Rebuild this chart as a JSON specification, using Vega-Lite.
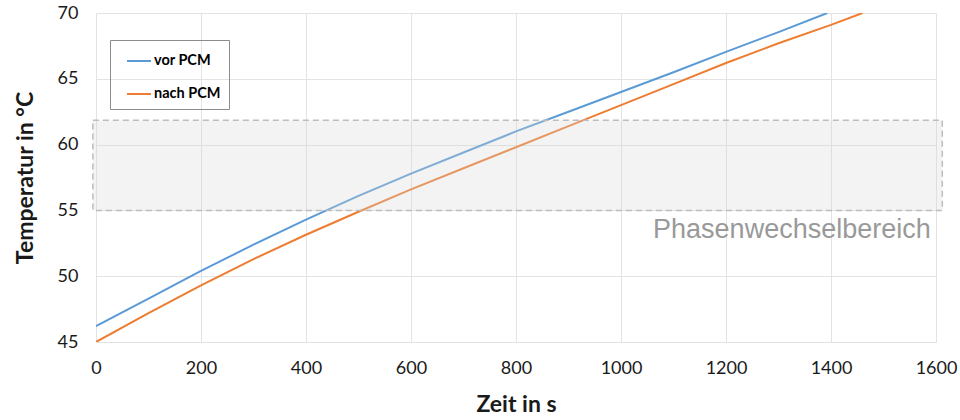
{
  "$schema": "https://vega.github.io/schema/vega-lite/v6.json",
  "width": 840,
  "height": 329,
  "autosize": {"type": "none"},
  "padding": {"left": 96, "top": 13, "right": 24, "bottom": 78},
  "background": "white",
  "config": {
    "view": {"stroke": null},
    "font": "Lato",
    "axis": {"gridColor": "#e3e3e3", "gridWidth": 1, "domain": false, "ticks": false, "labelFont": "Lato", "labelFontSize": 18, "labelColor": "#1a1a1a", "titleFont": "Lato", "titleFontSize": 23, "titleFontWeight": "bold", "titleColor": "#1a1a1a"}
  },
  "datasets": {
    "zone": [{"xs": -6, "xe": 1612, "ys": 55.0, "ye": 61.85}],
    "series": [
      {"t": 0, "temp": 46.2, "serie": "vor PCM"},
      {"t": 100, "temp": 48.3, "serie": "vor PCM"},
      {"t": 200, "temp": 50.4, "serie": "vor PCM"},
      {"t": 300, "temp": 52.4, "serie": "vor PCM"},
      {"t": 400, "temp": 54.3, "serie": "vor PCM"},
      {"t": 500, "temp": 56.1, "serie": "vor PCM"},
      {"t": 600, "temp": 57.8, "serie": "vor PCM"},
      {"t": 700, "temp": 59.4, "serie": "vor PCM"},
      {"t": 800, "temp": 61.0, "serie": "vor PCM"},
      {"t": 900, "temp": 62.5, "serie": "vor PCM"},
      {"t": 1000, "temp": 64.0, "serie": "vor PCM"},
      {"t": 1100, "temp": 65.5, "serie": "vor PCM"},
      {"t": 1200, "temp": 67.05, "serie": "vor PCM"},
      {"t": 1300, "temp": 68.55, "serie": "vor PCM"},
      {"t": 1393, "temp": 70.0, "serie": "vor PCM"},
      {"t": 0, "temp": 45.0, "serie": "nach PCM"},
      {"t": 100, "temp": 47.2, "serie": "nach PCM"},
      {"t": 200, "temp": 49.3, "serie": "nach PCM"},
      {"t": 300, "temp": 51.3, "serie": "nach PCM"},
      {"t": 400, "temp": 53.15, "serie": "nach PCM"},
      {"t": 500, "temp": 54.9, "serie": "nach PCM"},
      {"t": 600, "temp": 56.6, "serie": "nach PCM"},
      {"t": 700, "temp": 58.2, "serie": "nach PCM"},
      {"t": 800, "temp": 59.8, "serie": "nach PCM"},
      {"t": 900, "temp": 61.4, "serie": "nach PCM"},
      {"t": 1000, "temp": 63.0, "serie": "nach PCM"},
      {"t": 1100, "temp": 64.6, "serie": "nach PCM"},
      {"t": 1200, "temp": 66.2, "serie": "nach PCM"},
      {"t": 1300, "temp": 67.7, "serie": "nach PCM"},
      {"t": 1400, "temp": 69.1, "serie": "nach PCM"},
      {"t": 1460, "temp": 70.0, "serie": "nach PCM"}
    ],
    "note": [{"px": 1590, "py": 53.5, "txt": "Phasenwechselbereich"}]
  },
  "layer": [
    {
      "data": {"name": "series"},
      "mark": {"type": "line", "strokeWidth": 2, "clip": true},
      "encoding": {
        "x": {"field": "t", "type": "quantitative", "scale": {"domain": [0, 1600], "nice": false, "zero": false},
              "axis": {"title": "Zeit in s", "format": "d", "values": [0, 200, 400, 600, 800, 1000, 1200, 1400, 1600], "labelPadding": 17, "titlePadding": 16, "labelFlush": false}},
        "y": {"field": "temp", "type": "quantitative", "scale": {"domain": [45, 70], "nice": false, "zero": false},
              "axis": {"title": "Temperatur in °C", "values": [45, 50, 55, 60, 65, 70], "labelPadding": 18, "titlePadding": 20, "labelFlush": false}},
        "color": {"field": "serie", "type": "nominal",
                  "scale": {"domain": ["vor PCM", "nach PCM"], "range": ["#5b9bd5", "#ed7d31"]},
                  "legend": {"orient": "none", "legendX": 14, "legendY": 27, "title": null, "strokeColor": "#8c8c8c", "padding": 8, "symbolOffset": 8, "symbolType": "stroke", "symbolSize": 576, "symbolStrokeWidth": 2, "labelFont": "Lato", "labelFontSize": 14.5, "labelFontWeight": "bold", "labelColor": "#000000", "rowPadding": 13, "labelOffset": 2}}
      }
    },
    {
      "data": {"name": "zone"},
      "mark": {"type": "rect", "fill": "#d6d6d6", "fillOpacity": 0.3, "stroke": "#bdbdbd", "strokeWidth": 1.5, "strokeDash": [6, 4]},
      "encoding": {
        "x": {"field": "xs", "type": "quantitative", "title": "Zeit in s"},
        "x2": {"field": "xe"},
        "y": {"field": "ys", "type": "quantitative", "title": "Temperatur in °C"},
        "y2": {"field": "ye"}
      }
    },
    {
      "data": {"name": "note"},
      "mark": {"type": "text", "align": "right", "baseline": "middle", "font": "Liberation Sans", "fontSize": 27, "color": "#999999"},
      "encoding": {
        "x": {"field": "px", "type": "quantitative", "title": "Zeit in s"},
        "y": {"field": "py", "type": "quantitative", "title": "Temperatur in °C"},
        "text": {"field": "txt"}
      }
    }
  ]
}
